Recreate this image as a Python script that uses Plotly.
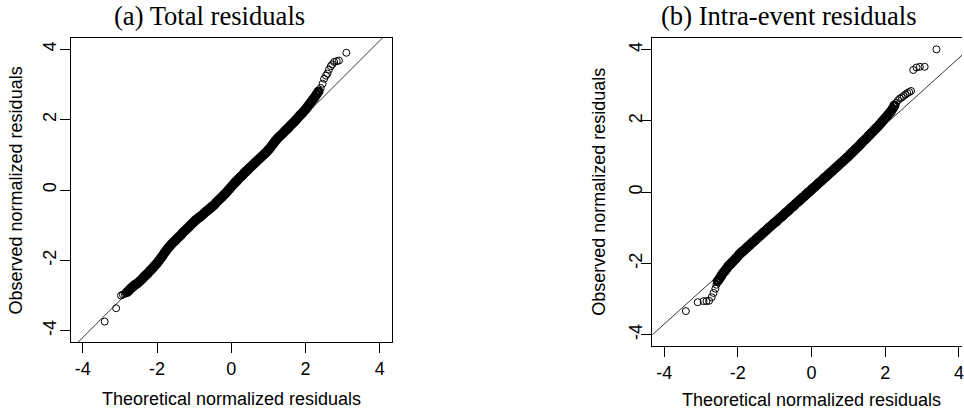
import plotly.graph_objects as go

# ---------------- data ----------------
tick_vals = [-4, -2, 0, 2, 4]
tick_labels = ["-4", "-2", "0", "2", "4"]

titles = ["(a) Total residuals", "(b) Intra-event residuals"]
x_title = "Theoretical normalized residuals"
y_title = "Observed normalized residuals"

# qq reference lines: [intercept, slope]
qqline_a = [0.027, 1.055]
qqline_b = [0.030, 0.934]

# Panel (a): theoretical vs observed quantiles
theo_a = [-3.41, -3.10, -2.97, -2.92, -2.87, -2.84,
          -2.80, -2.75, -2.70, -2.65, -2.60, -2.55, -2.50, -2.45, -2.40, -2.35,
          -2.30, -2.25, -2.20, -2.15, -2.10, -2.05, -2.00, -1.95, -1.90, -1.85,
          -1.80, -1.75, -1.70, -1.65, -1.60, -1.55, -1.50, -1.45, -1.40, -1.35,
          -1.30, -1.25, -1.20, -1.15, -1.10, -1.05, -1.00, -0.95, -0.90, -0.85,
          -0.80, -0.75, -0.70, -0.65, -0.60, -0.55, -0.50, -0.45, -0.40, -0.35,
          -0.30, -0.25, -0.20, -0.15, -0.10, -0.05, 0.00, 0.05, 0.10, 0.15,
          0.20, 0.25, 0.30, 0.35, 0.40, 0.45, 0.50, 0.55, 0.60, 0.65,
          0.70, 0.75, 0.80, 0.85, 0.90, 0.95, 1.00, 1.05, 1.10, 1.15,
          1.20, 1.25, 1.30, 1.35, 1.40, 1.45, 1.50, 1.55, 1.60, 1.65,
          1.70, 1.75, 1.80, 1.85, 1.90, 1.95, 2.00, 2.05, 2.10, 2.15,
          2.20, 2.25, 2.30, 2.35,
          2.41, 2.46, 2.50, 2.55, 2.59, 2.63, 2.68, 2.72, 2.77, 2.84, 2.90, 3.10]
obs_a = [-3.74, -3.36, -3.00, -2.97, -2.95, -2.93,
         -2.90, -2.85, -2.79, -2.75, -2.70, -2.67, -2.63, -2.58, -2.53, -2.47,
         -2.42, -2.37, -2.31, -2.26, -2.20, -2.14, -2.08, -2.01, -1.94, -1.87,
         -1.79, -1.72, -1.65, -1.59, -1.53, -1.48, -1.43, -1.37, -1.32, -1.27,
         -1.21, -1.16, -1.11, -1.06, -1.00, -0.95, -0.90, -0.85, -0.81, -0.77,
         -0.73, -0.68, -0.63, -0.59, -0.55, -0.50, -0.46, -0.41, -0.35, -0.30,
         -0.25, -0.20, -0.14, -0.09, -0.03, 0.03, 0.09, 0.15, 0.21, 0.26,
         0.32, 0.37, 0.42, 0.48, 0.53, 0.58, 0.63, 0.68, 0.73, 0.78,
         0.83, 0.88, 0.93, 0.98, 1.03, 1.08, 1.14, 1.20, 1.27, 1.34,
         1.41, 1.47, 1.52, 1.57, 1.62, 1.68, 1.73, 1.78, 1.84, 1.89,
         1.94, 2.00, 2.06, 2.12, 2.17, 2.23, 2.29, 2.36, 2.43, 2.50,
         2.57, 2.64, 2.72, 2.80,
         2.90, 3.02, 3.16, 3.25, 3.31, 3.42, 3.52, 3.57, 3.64, 3.66, 3.68, 3.90]

# Panel (b): theoretical vs observed quantiles
theo_b = [-3.41, -3.09, -2.93, -2.85, -2.78, -2.71, -2.66, -2.61, -2.58,
          -2.55, -2.50, -2.45, -2.40, -2.35, -2.30, -2.25, -2.20, -2.15, -2.10,
          -2.05, -2.00, -1.95, -1.90, -1.85, -1.80, -1.75, -1.70, -1.65, -1.60,
          -1.55, -1.50, -1.45, -1.40, -1.35, -1.30, -1.25, -1.20, -1.15, -1.10,
          -1.05, -1.00, -0.95, -0.90, -0.85, -0.80, -0.75, -0.70, -0.65, -0.60,
          -0.55, -0.50, -0.45, -0.40, -0.35, -0.30, -0.25, -0.20, -0.15, -0.10,
          -0.05, 0.00, 0.05, 0.10, 0.15, 0.20, 0.25, 0.30, 0.35, 0.40,
          0.45, 0.50, 0.55, 0.60, 0.65, 0.70, 0.75, 0.80, 0.85, 0.90,
          0.95, 1.00, 1.05, 1.10, 1.15, 1.20, 1.25, 1.30, 1.35, 1.40,
          1.45, 1.50, 1.55, 1.60, 1.65, 1.70, 1.75, 1.80, 1.85, 1.90,
          1.95, 2.00, 2.05, 2.10, 2.15, 2.20, 2.25,
          2.30, 2.35, 2.40, 2.45, 2.50, 2.55, 2.60, 2.65, 2.70,
          2.76, 2.85, 2.94, 3.07, 3.39]
obs_b = [-3.34, -3.09, -3.06, -3.06, -3.05, -2.95, -2.83, -2.71, -2.60,
         -2.50, -2.43, -2.35, -2.27, -2.21, -2.14, -2.07, -2.02, -1.97, -1.91,
         -1.86, -1.80, -1.74, -1.69, -1.65, -1.60, -1.55, -1.51, -1.46, -1.41,
         -1.37, -1.32, -1.27, -1.23, -1.18, -1.13, -1.09, -1.04, -0.99, -0.95,
         -0.90, -0.86, -0.82, -0.77, -0.72, -0.68, -0.63, -0.58, -0.54, -0.49,
         -0.44, -0.40, -0.35, -0.30, -0.26, -0.21, -0.16, -0.12, -0.07, -0.02,
         0.02, 0.07, 0.12, 0.16, 0.21, 0.26, 0.30, 0.35, 0.40, 0.44,
         0.49, 0.54, 0.58, 0.63, 0.68, 0.72, 0.77, 0.82, 0.86, 0.91,
         0.96, 1.00, 1.06, 1.11, 1.16, 1.21, 1.26, 1.31, 1.37, 1.42,
         1.47, 1.52, 1.58, 1.63, 1.68, 1.74, 1.79, 1.84, 1.90, 1.96,
         2.02, 2.08, 2.14, 2.20, 2.26, 2.34, 2.43,
         2.51, 2.58, 2.63, 2.66, 2.70, 2.74, 2.78, 2.81, 2.84,
         3.43, 3.50, 3.52, 3.52, 4.01]

# number of isolated points at the low / high tails of each panel
tails_a = (6, 12)
tails_b = (9, 14)

# ---------------- figure ----------------
W, H = 964, 416
SANS = "Liberation Sans, Arial, sans-serif"
SERIF = "Liberation Serif, Times New Roman, serif"

thin = dict(symbol="circle-open", size=7, color="black", line=dict(width=1, color="black"))
thick = dict(symbol="circle-open", size=7, color="black", line=dict(width=3, color="black"))


def line_pts(par):
    xs = [-6, 6]
    return xs, [par[0] + par[1] * v for v in xs]


fig = go.Figure()


def add_panel(theo, obs, tails, qq, xa, ya):
    lo, hi = tails
    n = len(theo)
    # dense central band
    fig.add_trace(go.Scatter(x=theo[lo:n - hi], y=obs[lo:n - hi], mode="markers",
                             marker=thick, xaxis=xa, yaxis=ya, showlegend=False))
    # isolated tail points
    fig.add_trace(go.Scatter(x=theo[:lo] + theo[n - hi:], y=obs[:lo] + obs[n - hi:],
                             mode="markers", marker=thin, xaxis=xa, yaxis=ya,
                             showlegend=False))
    lx, ly = line_pts(qq)
    fig.add_trace(go.Scatter(x=lx, y=ly, mode="lines",
                             line=dict(color="black", width=0.8),
                             xaxis=xa, yaxis=ya, showlegend=False))


add_panel(theo_a, obs_a, tails_a, qqline_a, "x", "y")
add_panel(theo_b, obs_b, tails_b, qqline_b, "x2", "y2")


def px_x(p):
    return p / W


def px_y(p):
    return 1 - p / H


common = dict(showgrid=False, zeroline=False, showline=True, linecolor="black",
              linewidth=1, ticks="outside", ticklen=10, tickwidth=1, tickcolor="black",
              tickvals=tick_vals, ticktext=tick_labels, ticklabeloverflow="allow",
              tickfont=dict(family=SANS, size=18, color="black"), fixedrange=True)

fig.update_layout(
    width=W, height=H, margin=dict(l=0, r=0, t=0, b=0),
    paper_bgcolor="white", plot_bgcolor="white", showlegend=False,
    xaxis=dict(common, domain=[px_x(71), px_x(392.5)], range=[-4.32, 4.32],
               mirror=True, anchor="y"),
    yaxis=dict(common, domain=[px_y(342), px_y(38)], range=[-4.32, 4.32],
               mirror=True, anchor="x", tickangle=-90, ticklabelstandoff=-3),
    xaxis2=dict(common, domain=[px_x(653.7), 1.0], range=[-4.32, 4.084],
                mirror=True, anchor="y2"),
    yaxis2=dict(common, domain=[px_y(346), px_y(38.3)], range=[-4.32, 4.32],
                mirror=False, anchor="x2", tickangle=-90, ticklabelstandoff=-8),
)

ann = []
ann.append(dict(text=titles[0], x=px_x(210), y=px_y(16), xref="paper", yref="paper",
                showarrow=False, xanchor="center", yanchor="middle",
                font=dict(family=SERIF, size=26.6, color="black")))
ann.append(dict(text=titles[1], x=px_x(791), y=px_y(16), xref="paper", yref="paper",
                showarrow=False, xanchor="center", yanchor="middle",
                font=dict(family=SERIF, size=26.6, color="black")))
for cx, cy in [(231.7, 399), (813.3, 400)]:
    ann.append(dict(text=x_title, x=px_x(cx), y=px_y(cy), xref="paper", yref="paper",
                    showarrow=False, xanchor="center", yanchor="middle",
                    font=dict(family=SANS, size=18, color="black")))
for cx, cy in [(16, 190.5), (600, 192)]:
    ann.append(dict(text=y_title, x=px_x(cx), y=px_y(cy), xref="paper", yref="paper",
                    showarrow=False, xanchor="center", yanchor="middle", textangle=-90,
                    font=dict(family=SANS, size=18, color="black")))
fig.update_layout(annotations=ann)

fig.write_html("out.html")
